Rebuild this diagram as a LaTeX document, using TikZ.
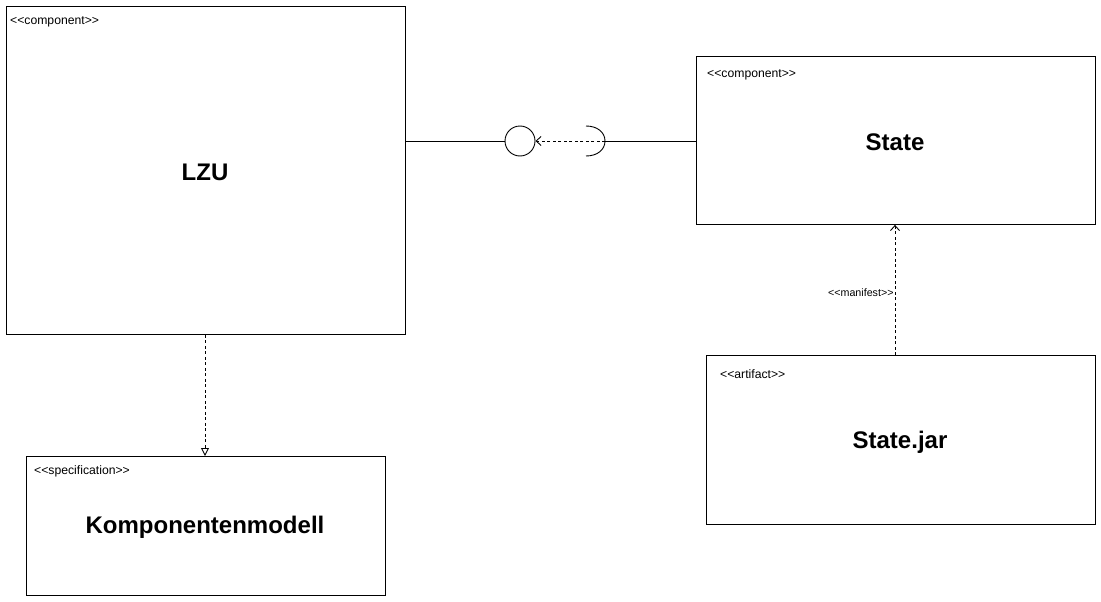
\documentclass[tikz,border=0pt]{standalone}
\usepackage{fontspec}
\setmainfont{Liberation Sans}[Ligatures=TeXOff]
\usetikzlibrary{arrows.meta}
\begin{document}
\begin{tikzpicture}[x=1pt,y=-1pt,
  box/.style={draw,line width=0.9pt,anchor=north west,inner sep=0pt},
  title/.style={font=\fontsize{24}{28}\selectfont\bfseries,inner sep=0pt},
  stereo/.style={font=\fontsize{12.2}{14}\selectfont,anchor=west,inner sep=0pt},
  conn/.style={line width=0.9pt},
  dep/.style={line width=0.9pt,dashed,dash pattern=on 3pt off 2.5pt},
  barb/.style={-{Straight Barb[length=5pt,width=9pt]}},
]
\useasboundingbox (0,0) rectangle (1101,602);
% boxes
\node[box,minimum width=399pt,minimum height=328pt] (lzu) at (6,6) {};
\node[box,minimum width=399pt,minimum height=168pt] (state) at (696,56) {};
\node[box,minimum width=389pt,minimum height=169pt] (jar) at (706,355) {};
\node[box,minimum width=359pt,minimum height=139pt] (komp) at (26,456) {};
% titles
\node[title] (lzuT) at (205,172) {LZU};
\node[title] (stateT) at (895,142) {State};
\node[title] (jarT) at (900,442) {State.jar};
\node[title] (kompT) at (205,527) {Komponentenmodell};
% stereotypes
\node[stereo] (lzuS) at (10,22) {<<component>>};
\node[stereo] (stateS) at (707,75) {<<component>>};
\node[stereo] (jarS) at (720,374) {<<artifact>>};
\node[stereo] (kompS) at (34,471) {<<specification>>};
% lollipop
\node[draw,circle,line width=0.9pt,minimum size=30pt,inner sep=0pt] (ball) at (520,141) {};
\coordinate (sock) at (605,141);
\draw[conn] (lzu.east |- ball.west) -- (ball.west);
\draw[conn] (586,126) .. controls (597,126) and (605,132) .. (sock) .. controls (605,150) and (597,156) .. (586,156);
\draw[conn] (sock) -- (sock -| state.west);
\draw[dep,barb] (sock) -- (ball.east);
% manifest
\coordinate (jt) at (895,355);
\draw[dep,barb] (jt) -- (jt |- state.south) node[pos=0.48,anchor=east,inner sep=1pt,font=\fontsize{10.7}{12}\selectfont] (man) {<<manifest>>};
% dependency
\draw[dep,-{Triangle[open,length=8pt,width=8pt]}] (lzu.south -| 205,0) -- (komp.north -| 205,0);
\end{tikzpicture}
\end{document}
